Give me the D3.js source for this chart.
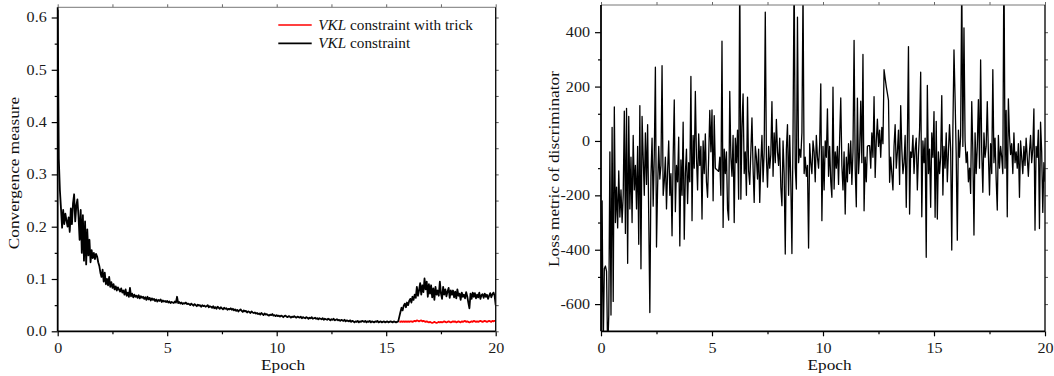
<!DOCTYPE html>
<html>
<head>
<meta charset="utf-8">
<script src="https://cdn.jsdelivr.net/npm/d3@7"></script>
<style>
  body { margin: 0; background: #fff; }
  svg { display: block; }
</style>
</head>
<body>
<div id="chart"></div>
<script>
// --- datos ---
const epochStep = 0.05
const epochTicks = [0, 5, 10, 15, 20]
const epochMinorTicks = [2.5, 7.5, 12.5, 17.5]
const convTicks = [0, 0.1, 0.2, 0.3, 0.4, 0.5, 0.6]
const convMinorTicks = [0.05, 0.15, 0.25, 0.35, 0.45, 0.55]
const lossTicks = [-600, -400, -200, 0, 200, 400]
const lossMinorTicks = [-500, -300, -100, 100, 300]
const seriesNames = ["constraint with trick", "constraint"]

// VKL constraint (negro), epoch 0 .. 20
const convPlain = [
  0.615, 0.33, 0.27, 0.235, 0.198, 0.232, 0.205, 0.225, 0.212, 0.2, 0.218, 0.19, 0.235, 0.205, 0.245, 0.262, 0.21, 0.24, 0.252, 0.22,
  0.175, 0.232, 0.15, 0.222, 0.135, 0.21, 0.128, 0.195, 0.145, 0.175, 0.132, 0.155, 0.14, 0.15, 0.138, 0.148, 0.143, 0.132, 0.125, 0.112,
  0.104, 0.118, 0.095, 0.112, 0.09, 0.1, 0.088, 0.104, 0.085, 0.094, 0.083, 0.09, 0.08, 0.086, 0.078, 0.084, 0.08, 0.076, 0.082, 0.074,
  0.078, 0.07, 0.08, 0.068, 0.074, 0.066, 0.083, 0.067, 0.072, 0.065, 0.07, 0.066, 0.068, 0.064, 0.069, 0.063, 0.067, 0.064, 0.066, 0.062,
  0.065, 0.06, 0.066, 0.061, 0.064, 0.059, 0.063, 0.06, 0.062, 0.058, 0.061, 0.057, 0.06, 0.058, 0.061, 0.056, 0.059, 0.057, 0.058, 0.056,
  0.058, 0.055, 0.057, 0.054, 0.056, 0.055, 0.054, 0.057, 0.055, 0.066, 0.054, 0.056, 0.053, 0.055, 0.052, 0.054, 0.053, 0.055, 0.052, 0.053,
  0.052, 0.05, 0.053, 0.051, 0.049, 0.052, 0.05, 0.048, 0.051, 0.049, 0.05, 0.047, 0.05, 0.048, 0.049, 0.047, 0.048, 0.05, 0.046, 0.048,
  0.047, 0.045, 0.048, 0.044, 0.046, 0.043, 0.047, 0.045, 0.043, 0.046, 0.044, 0.042, 0.045, 0.043, 0.044, 0.041, 0.043, 0.042, 0.044, 0.041,
  0.043, 0.04, 0.042, 0.039, 0.041, 0.038, 0.04, 0.042, 0.039, 0.037, 0.04, 0.038, 0.039, 0.036, 0.038, 0.037, 0.035, 0.038, 0.036, 0.035,
  0.036, 0.034, 0.035, 0.033, 0.034, 0.032, 0.035, 0.033, 0.031, 0.034, 0.032, 0.033, 0.031, 0.03, 0.032, 0.031, 0.033, 0.03, 0.031, 0.029,
  0.031, 0.029, 0.03, 0.028, 0.03, 0.029, 0.027, 0.029, 0.03, 0.028, 0.027, 0.029, 0.028, 0.026, 0.028, 0.027, 0.029, 0.027, 0.026, 0.028,
  0.027, 0.026, 0.028, 0.025, 0.027, 0.026, 0.025, 0.027, 0.026, 0.024, 0.026, 0.025, 0.027, 0.024, 0.025, 0.026, 0.024, 0.025, 0.023, 0.025,
  0.024, 0.023, 0.025, 0.022, 0.024, 0.023, 0.022, 0.024, 0.023, 0.021, 0.023, 0.022, 0.024, 0.021, 0.022, 0.023, 0.021, 0.022, 0.02, 0.022,
  0.021, 0.02, 0.022, 0.019, 0.021, 0.02, 0.019, 0.021, 0.018, 0.02, 0.019, 0.017, 0.019, 0.018, 0.02, 0.017, 0.019, 0.018, 0.02, 0.019,
  0.018, 0.02, 0.017, 0.019, 0.018, 0.02, 0.017, 0.019, 0.018, 0.017, 0.019, 0.018, 0.02, 0.017, 0.018, 0.019, 0.017, 0.018, 0.019, 0.017,
  0.018, 0.019, 0.017, 0.018, 0.019, 0.018, 0.017, 0.019, 0.018, 0.017, 0.018, 0.019, 0.028, 0.037, 0.045, 0.04, 0.049, 0.053, 0.046, 0.055,
  0.05, 0.058, 0.062, 0.055, 0.066, 0.06, 0.07, 0.064, 0.085, 0.068, 0.078, 0.092, 0.07, 0.088, 0.075, 0.101, 0.08, 0.095, 0.066, 0.09,
  0.072, 0.088, 0.065, 0.082, 0.06, 0.085, 0.07, 0.078, 0.068, 0.095, 0.072, 0.062, 0.085, 0.07, 0.08, 0.067, 0.076, 0.083, 0.064, 0.078,
  0.07, 0.078, 0.065, 0.076, 0.063, 0.08, 0.068, 0.072, 0.06, 0.074, 0.066, 0.07, 0.063, 0.075, 0.067, 0.055, 0.044, 0.072, 0.062, 0.074,
  0.066, 0.073, 0.063, 0.07, 0.065, 0.074, 0.062, 0.069, 0.071, 0.064, 0.072, 0.066, 0.07, 0.062, 0.068, 0.073, 0.065, 0.071, 0.074, 0.068, 0.05
]

// VKL constraint with trick (rojo), desde epoch 15.6
const trickStart = 15.6
const convTrick = [
  0.019, 0.018, 0.019, 0.018, 0.019, 0.018, 0.019, 0.018, 0.019, 0.018,
  0.019, 0.019, 0.018, 0.019, 0.020, 0.019, 0.021, 0.020, 0.019, 0.020,
  0.021, 0.019, 0.020, 0.019, 0.018, 0.019, 0.018, 0.017, 0.018, 0.017,
  0.016, 0.017, 0.018, 0.017, 0.016, 0.017, 0.018, 0.017, 0.018, 0.017,
  0.018, 0.019, 0.018, 0.017, 0.018, 0.019, 0.018, 0.017, 0.018, 0.019,
  0.018, 0.019, 0.017, 0.018, 0.019, 0.018, 0.017, 0.019, 0.018, 0.019,
  0.020, 0.018, 0.019, 0.018, 0.017, 0.018, 0.019, 0.018, 0.020, 0.019,
  0.018, 0.019, 0.018, 0.019, 0.020, 0.019, 0.018, 0.019, 0.020, 0.019,
  0.018, 0.019, 0.020, 0.019, 0.018, 0.020, 0.019, 0.020, 0.020
]

// pérdida del discriminador, epoch 0 .. 20
const discLoss = [
  -800, -220, -760, -470, -460, -480, -780, -640, -40, -640, 50, -590, 125, -300, -170, -320, -110, -280, -180, -300,
  -200, 110, -340, 120, -450, 90, -250, -60, -300, 20, -180, -90, -250, -20, -380, 130, -470, 90, -60, -200,
  30, -160, 60, -280, -631, -130, 10, -240, -50, 271, -390, -170, -20, -140, -90, 277, -200, -150, -60, -250,
  -110, 0, -200, -120, -349, -60, 151, -260, -90, -150, 14, -386, -70, -200, 69, -361, -120, -30, -230, -80,
  -150, 237, -293, 20, -100, 182, -60, -180, 26, -90, -20, -287, 0, -120, 26, -150, -207, -60, 112, -40,
  114, -220, 93, -100, -105, -108, -112, -60, -200, 367, -318, -30, -120, -40, -250, -291, 182, -60, -130, 20,
  -300, 10, -80, 40, -214, 620, -214, 50, 173, -120, -40, -200, 161, -110, -160, -40, 85, -100, -226, -20,
  -60, -140, -30, -226, -80, 20, -150, -40, 474, -60, -170, -20, -100, -50, 145, -130, 30, -80, 79, -40,
  -90, 10, -170, -238, 0, -120, -416, -30, 60, -200, 20, -150, -414, 30, 640, -100, -177, 455, -80, -30,
  -60, 30, 560, -120, -60, -130, -90, -394, -10, -80, -120, 0, -40, -150, 20, -60, -100, -10, 210, -293,
  -20, -180, 0, -60, 118, -130, -20, -150, -207, 198, -177, -40, -100, -20, -160, 10, 158, -90, -180, -40,
  -269, -60, -150, -10, -120, 0, -160, -40, 370, -100, -242, 157, -120, -40, 146, -80, 318, -257, -60, -150,
  -20, -17, -17, -100, 30, -60, 163, -134, 0, 80, -20, 40, -60, 50, -10, 262, 230, 200, 175, 149,
  -152, -60, -120, -180, -20, 60, -100, -40, 40, -160, 130, -30, -120, -80, 20, -244, 0, 347, -269, -40,
  -60, 20, -120, -30, 10, -180, -50, 40, 253, -279, 0, -80, 10, -428, 204, -120, -30, -244, 30, -60,
  108, -281, 72, -287, -40, -120, -60, 167, -199, -20, -100, 30, -150, -40, 60, -30, -401, 40, 335, 155,
  -50, -365, 40, -60, 20, 600, -20, 416, 0, -80, -40, -150, -100, -193, 145, -40, -346, 30, -120, -20,
  152, -100, 298, -40, -189, 30, -60, -20, 145, -50, -199, -10, -120, 262, -80, 10, -140, -254, 20, -100,
  -20, -60, -120, 700, -100, 112, -279, 155, 20, -50, -10, -120, 30, -80, -40, -100, -10, -207, 0, -60,
  -120, -20, -90, 10, -60, -130, -40, 20, -80, -30, 118, -328, -20, -60, 40, -322, 69, -40, -263, -80, -150
]

// --- dibujo ---
const width = 1054, height = 376
const FONT = "'Liberation Serif', 'Times New Roman', serif"
const STRETCH = 1.15

const svg = d3.select('#chart').append('svg')
    .attr('width', width)
    .attr('height', height)
    .attr('viewBox', [0, 0, width, height])

const defs = svg.append('defs')

function toPoints(values, start) {
    return values.map((v, i) => ({ x: start + i * epochStep, y: v }))
}

function panel({ id, left, right, top, bottom, yDomain, yTicks, yMinor, yFormat }) {
    const x = d3.scaleLinear().domain([0, 20]).range([left, right])
    const y = d3.scaleLinear().domain(yDomain).range([bottom, top])
    const g = svg.append('g')

    defs.append('clipPath').attr('id', id)
        .append('rect')
        .attr('x', left).attr('y', top)
        .attr('width', right - left).attr('height', bottom - top)

    const plot = g.append('g').attr('clip-path', `url(#${id})`)

    const clean = sel => sel.call(s => s.select('.domain').remove())
        .call(s => s.selectAll('.tick line').attr('stroke', '#000').attr('stroke-width', 1.2))

    // eje inferior
    g.append('g')
        .attr('transform', `translate(0,${bottom})`)
        .call(d3.axisBottom(x).tickValues(epochTicks).tickSize(5).tickFormat(d3.format('d')))
        .call(clean)
        .call(s => s.selectAll('.tick text')
            .attr('y', 12).attr('dy', '0.71em')
            .attr('transform', `scale(${STRETCH},1)`)
            .style('font-family', FONT).style('font-size', '14px').attr('fill', '#1a1a1a'))
    g.append('g')
        .attr('transform', `translate(0,${bottom})`)
        .call(d3.axisBottom(x).tickValues(epochMinorTicks).tickSize(3).tickFormat(''))
        .call(clean)

    // eje superior (sin etiquetas)
    g.append('g')
        .attr('transform', `translate(0,${top})`)
        .call(d3.axisTop(x).tickValues(epochTicks.concat(epochMinorTicks)).tickSize(3).tickFormat(''))
        .call(clean)
        .call(s => s.selectAll('.tick line').attr('stroke', '#666').attr('stroke-width', 1))

    // eje izquierdo
    g.append('g')
        .attr('transform', `translate(${left},0)`)
        .call(d3.axisLeft(y).tickValues(yTicks).tickSize(6).tickFormat(yFormat))
        .call(clean)
        .call(s => s.selectAll('.tick text')
            .attr('x', -11 / STRETCH)
            .attr('transform', `scale(${STRETCH},1)`)
            .style('font-family', FONT).style('font-size', '14px').attr('fill', '#1a1a1a'))
    g.append('g')
        .attr('transform', `translate(${left},0)`)
        .call(d3.axisLeft(y).tickValues(yMinor).tickSize(3).tickFormat(''))
        .call(clean)

    // eje derecho (sin etiquetas)
    g.append('g')
        .attr('transform', `translate(${right},0)`)
        .call(d3.axisRight(y).tickValues(yTicks.concat(yMinor)).tickSize(3).tickFormat(''))
        .call(clean)
        .call(s => s.selectAll('.tick line').attr('stroke', '#555').attr('stroke-width', 1))

    // marco
    g.append('line').attr('x1', left).attr('x2', right).attr('y1', top).attr('y2', top)
        .attr('stroke', '#777').attr('stroke-width', 1)
    g.append('line').attr('x1', right).attr('x2', right).attr('y1', top).attr('y2', bottom)
        .attr('stroke', '#111').attr('stroke-width', 1.4)
    g.append('line').attr('x1', left).attr('x2', right).attr('y1', bottom).attr('y2', bottom)
        .attr('stroke', '#000').attr('stroke-width', 1.8)
    g.append('line').attr('x1', left).attr('x2', left).attr('y1', top).attr('y2', bottom)
        .attr('stroke', '#000').attr('stroke-width', 1.8)

    return { x, y, g, plot }
}

function label(g, text, tx, ty, rotate) {
    g.append('text')
        .attr('transform', `translate(${tx},${ty})${rotate ? ' rotate(-90)' : ''} scale(${STRETCH},1)`)
        .attr('text-anchor', 'middle')
        .style('font-family', FONT)
        .style('font-size', '15px')
        .attr('fill', '#111')
        .text(text)
}

// Panel izquierdo: medida de convergencia
const L = panel({
    id: 'clipL', left: 57.7, right: 495.7, top: 7.3, bottom: 331.3,
    yDomain: [0, 0.6195], yTicks: convTicks, yMinor: convMinorTicks,
    yFormat: d3.format('.1f')
})

const lineL = d3.line().x(d => L.x(d.x)).y(d => L.y(d.y))
L.plot.append('path')
    .datum(toPoints(convPlain, 0))
    .attr('fill', 'none').attr('stroke', '#000').attr('stroke-width', 1.8)
    .attr('stroke-linejoin', 'round')
    .attr('d', lineL)
L.plot.append('path')
    .datum(toPoints(convTrick, trickStart))
    .attr('fill', 'none').attr('stroke', '#ff0000').attr('stroke-width', 1.7)
    .attr('stroke-linejoin', 'round')
    .attr('d', lineL)

label(L.g, 'Epoch', 283, 370, false)
label(L.g, 'Convergence measure', 18.5, 173, true)

// Leyenda
const legendColors = ['#ff0000', '#000']
const legend = L.g.append('g')
seriesNames.forEach((name, i) => {
    const yy = 25 + i * 18.3
    legend.append('line')
        .attr('x1', 278.3).attr('x2', 311.7).attr('y1', yy).attr('y2', yy)
        .attr('stroke', legendColors[i]).attr('stroke-width', 1.7)
    const t = legend.append('text')
        .attr('transform', `translate(318.3,${yy + 4.5}) scale(1.09,1)`)
        .style('font-family', FONT).style('font-size', '14px')
        .attr('fill', '#111')
    t.append('tspan').style('font-style', 'italic').text('VKL')
    t.append('tspan').text(' ' + name)
})

// Panel derecho: pérdida del discriminador
const R = panel({
    id: 'clipR', left: 601, right: 1045, top: 5, bottom: 331.3,
    yDomain: [-700, 500], yTicks: lossTicks, yMinor: lossMinorTicks,
    yFormat: d => String(d)
})

const lineR = d3.line().x(d => R.x(d.x)).y(d => R.y(d.y))
R.plot.append('path')
    .datum(toPoints(discLoss, 0))
    .attr('fill', 'none').attr('stroke', '#000').attr('stroke-width', 1.3)
    .attr('stroke-linejoin', 'round')
    .attr('d', lineR)

label(R.g, 'Epoch', 829.5, 370, false)
label(R.g, 'Loss metric of discriminator', 558.5, 169, true)
</script>
</body>
</html>
